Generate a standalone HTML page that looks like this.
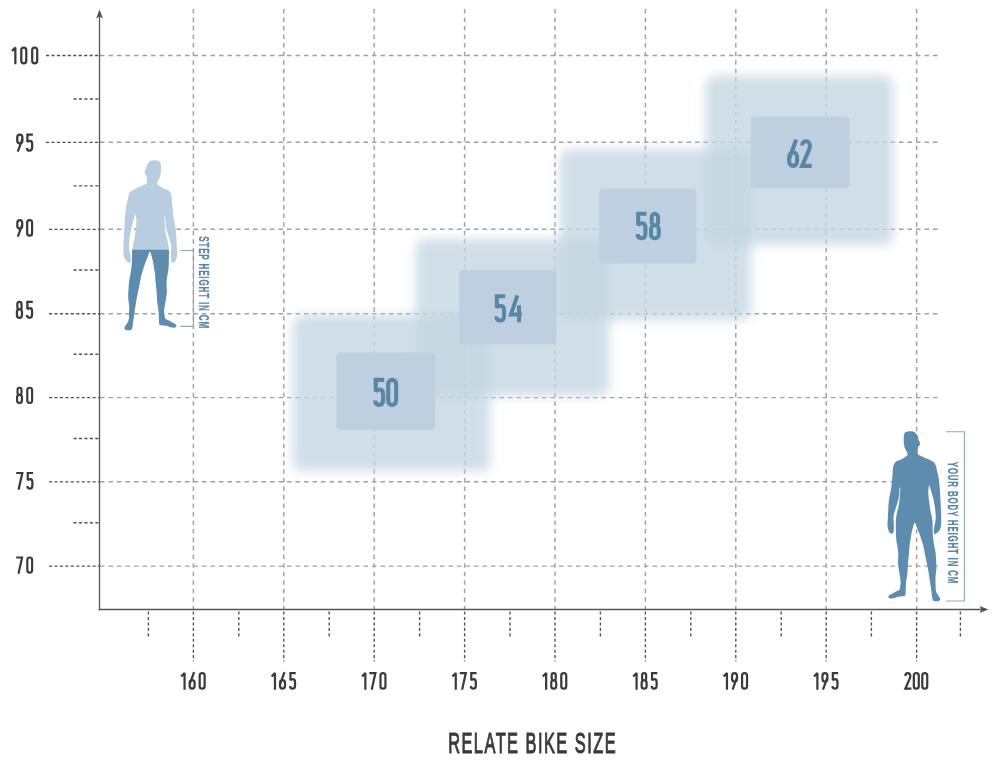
<!DOCTYPE html><html><head><meta charset="utf-8"><style>html,body{margin:0;padding:0;background:#fff}svg{display:block;will-change:transform}text{font-family:"Liberation Sans",sans-serif}</style></head><body>
<svg width="1000" height="763" viewBox="0 0 1000 763">
<defs><filter id="bl" x="-20%" y="-20%" width="140%" height="140%"><feGaussianBlur stdDeviation="5.5"/></filter>
<path id="man" d="M905.30,432.30C905.95,431.77 906.88,431.55 908.00,431.40C909.12,431.25 910.92,431.32 912.00,431.40C913.08,431.48 913.75,431.42 914.50,431.90C915.25,432.38 915.88,433.43 916.50,434.30C917.12,435.17 917.87,436.10 918.20,437.10C918.53,438.10 918.27,439.58 918.50,440.30C918.73,441.02 919.37,440.87 919.60,441.40C919.83,441.93 919.90,442.83 919.90,443.50C919.90,444.17 919.87,444.85 919.60,445.40C919.33,445.95 918.60,446.03 918.30,446.80C918.00,447.57 917.88,448.83 917.80,450.00C917.72,451.17 917.47,452.87 917.80,453.80C918.13,454.73 918.82,455.02 919.80,455.60C920.78,456.18 922.33,456.72 923.70,457.30C925.07,457.88 926.70,458.48 928.00,459.10C929.30,459.72 930.48,460.42 931.50,461.00C932.52,461.58 933.35,461.72 934.10,462.60C934.85,463.48 935.52,464.90 936.00,466.30C936.48,467.70 936.65,469.55 937.00,471.00C937.35,472.45 937.80,473.63 938.10,475.00C938.40,476.37 938.52,476.98 938.80,479.20C939.08,481.42 939.55,485.25 939.80,488.30C940.05,491.35 940.13,494.43 940.30,497.50C940.47,500.57 940.65,503.63 940.80,506.70C940.95,509.77 941.13,513.02 941.20,515.90C941.27,518.78 941.40,521.75 941.20,524.00C941.00,526.25 940.62,527.98 940.00,529.40C939.38,530.82 938.37,531.73 937.50,532.50C936.63,533.27 935.42,534.17 934.80,534.00C934.18,533.83 933.88,532.75 933.80,531.50C933.72,530.25 934.03,528.25 934.30,526.50C934.57,524.75 935.17,522.77 935.40,521.00C935.63,519.23 935.80,518.28 935.70,515.90C935.60,513.52 935.25,509.77 934.80,506.70C934.35,503.63 933.75,500.57 933.00,497.50C932.25,494.43 930.88,490.28 930.30,488.30C929.72,486.32 929.75,485.90 929.50,485.60C929.25,485.30 929.00,485.28 928.80,486.50C928.60,487.72 928.23,490.30 928.30,492.90C928.37,495.50 928.82,499.03 929.20,502.10C929.58,505.17 930.07,508.23 930.60,511.30C931.13,514.37 932.07,517.88 932.40,520.50C932.73,523.12 932.53,524.63 932.60,527.00C932.67,529.37 932.67,532.53 932.80,534.70C932.93,536.87 933.18,538.28 933.40,540.00C933.62,541.72 933.75,543.00 934.10,545.00C934.45,547.00 935.18,549.70 935.50,552.00C935.82,554.30 935.85,556.15 936.00,558.80C936.15,561.45 936.48,564.85 936.40,567.90C936.32,570.95 935.63,574.25 935.50,577.10C935.37,579.95 935.52,582.70 935.60,585.00C935.68,587.30 935.60,589.23 936.00,590.90C936.40,592.57 937.32,593.72 938.00,595.00C938.68,596.28 939.98,597.60 940.10,598.60C940.22,599.60 939.70,600.60 938.70,601.00C937.70,601.40 935.17,601.47 934.10,601.00C933.03,600.53 932.75,599.88 932.30,598.20C931.85,596.52 931.78,593.65 931.40,590.90C931.02,588.15 930.47,584.77 930.00,581.70C929.53,578.63 929.13,575.57 928.60,572.50C928.07,569.43 927.40,566.35 926.80,563.30C926.20,560.25 925.62,557.25 925.00,554.20C924.38,551.15 923.68,547.37 923.10,545.00C922.52,542.63 922.05,541.72 921.50,540.00C920.95,538.28 920.65,537.00 919.80,534.70C918.95,532.40 917.25,528.20 916.40,526.20C915.55,524.20 915.42,522.00 914.70,522.70C913.98,523.40 912.82,527.52 912.10,530.40C911.38,533.28 910.82,537.57 910.40,540.00C909.98,542.43 909.85,542.63 909.60,545.00C909.35,547.37 909.17,551.15 908.90,554.20C908.63,557.25 908.23,560.25 908.00,563.30C907.77,566.35 907.82,569.43 907.50,572.50C907.18,575.57 906.40,578.63 906.10,581.70C905.80,584.77 905.85,588.60 905.70,590.90C905.55,593.20 905.82,594.60 905.20,595.50C904.58,596.40 903.15,596.08 902.00,596.30C900.85,596.52 899.67,596.48 898.30,596.80C896.93,597.12 895.32,597.97 893.80,598.20C892.28,598.43 890.08,598.57 889.20,598.20C888.32,597.83 888.28,596.62 888.50,596.00C888.72,595.38 889.62,595.05 890.50,594.50C891.38,593.95 892.72,593.28 893.80,592.70C894.88,592.12 896.02,591.62 897.00,591.00C897.98,590.38 899.10,590.55 899.70,589.00C900.30,587.45 900.67,584.45 900.60,581.70C900.53,578.95 899.75,575.57 899.30,572.50C898.85,569.43 898.07,566.35 897.90,563.30C897.73,560.25 898.37,556.92 898.30,554.20C898.23,551.48 897.83,549.37 897.50,547.00C897.17,544.63 896.57,542.83 896.30,540.00C896.03,537.17 895.98,533.10 895.90,530.00C895.82,526.90 895.67,524.07 895.80,521.40C895.93,518.73 896.27,516.40 896.70,514.00C897.13,511.60 897.93,509.33 898.40,507.00C898.87,504.67 899.18,503.08 899.50,500.00C899.82,496.92 900.30,490.42 900.30,488.50C900.30,486.58 899.70,487.30 899.50,488.50C899.30,489.70 899.50,493.12 899.10,495.70C898.70,498.28 897.82,501.40 897.10,504.00C896.38,506.60 895.40,509.17 894.80,511.30C894.20,513.43 893.65,514.52 893.50,516.80C893.35,519.08 893.88,522.63 893.90,525.00C893.92,527.37 893.82,529.57 893.60,531.00C893.38,532.43 893.23,533.30 892.60,533.60C891.97,533.90 890.57,533.65 889.80,532.80C889.03,531.95 888.38,529.97 888.00,528.50C887.62,527.03 887.50,526.10 887.50,524.00C887.50,521.90 887.85,518.78 888.00,515.90C888.15,513.02 888.18,509.77 888.40,506.70C888.62,503.63 888.83,500.57 889.30,497.50C889.77,494.43 890.75,491.22 891.20,488.30C891.65,485.38 891.78,482.22 892.00,480.00C892.22,477.78 892.37,476.67 892.50,475.00C892.63,473.33 892.67,471.45 892.80,470.00C892.93,468.55 892.92,467.53 893.30,466.30C893.68,465.07 894.32,463.55 895.10,462.60C895.88,461.65 897.08,461.08 898.00,460.60C898.92,460.12 899.45,460.25 900.60,459.70C901.75,459.15 903.73,458.17 904.90,457.30C906.07,456.43 907.37,455.57 907.60,454.50C907.83,453.43 906.83,452.20 906.30,450.90C905.77,449.60 904.82,448.10 904.40,446.70C903.98,445.30 903.92,443.87 903.80,442.50C903.68,441.13 903.65,439.82 903.70,438.50C903.75,437.18 903.83,435.63 904.10,434.60C904.37,433.57 904.65,432.83 905.30,432.30Z"/>
<clipPath id="manclip"><use href="#man" transform="translate(1064.7,-271) scale(-1,1)"/></clipPath>
</defs>
<rect width="1000" height="763" fill="#fff"/>
<g stroke="#a0a0a0" stroke-width="1.45" stroke-dasharray="4.5 4" fill="none"><line x1="100" y1="55.5" x2="937.5" y2="55.5"/><line x1="100" y1="142.3" x2="937.5" y2="142.3"/><line x1="100" y1="229.3" x2="937.5" y2="229.3"/><line x1="100" y1="313.7" x2="937.5" y2="313.7"/><line x1="100" y1="397.6" x2="937.5" y2="397.6"/><line x1="100" y1="481.8" x2="937.5" y2="481.8"/><line x1="100" y1="566.1" x2="937.5" y2="566.1"/></g>
<g stroke="#a0a0a0" stroke-width="1.45" stroke-dasharray="4.5 4.025" fill="none"><line x1="193.4" y1="9" x2="193.4" y2="609"/><line x1="283.8" y1="9" x2="283.8" y2="609"/><line x1="374.2" y1="9" x2="374.2" y2="609"/><line x1="464.6" y1="9" x2="464.6" y2="609"/><line x1="555.0" y1="9" x2="555.0" y2="609"/><line x1="645.4" y1="9" x2="645.4" y2="609"/><line x1="735.8" y1="9" x2="735.8" y2="609"/><line x1="826.2" y1="9" x2="826.2" y2="609"/><line x1="916.6" y1="9" x2="916.6" y2="609"/></g>
<g stroke="#525252" stroke-width="1.35" stroke-dasharray="3.1 2.35" fill="none"><line x1="46.0" y1="55.5" x2="99" y2="55.5"/><line x1="46.0" y1="142.3" x2="99" y2="142.3"/><line x1="49.0" y1="229.3" x2="99" y2="229.3"/><line x1="49.0" y1="313.7" x2="99" y2="313.7"/><line x1="49.0" y1="397.6" x2="99" y2="397.6"/><line x1="49.0" y1="481.8" x2="99" y2="481.8"/><line x1="49.0" y1="566.1" x2="99" y2="566.1"/><line x1="73.5" y1="99.0" x2="99" y2="99.0"/><line x1="73.5" y1="185.9" x2="99" y2="185.9"/><line x1="73.5" y1="270.0" x2="99" y2="270.0"/><line x1="73.5" y1="354.2" x2="99" y2="354.2"/><line x1="73.5" y1="438.5" x2="99" y2="438.5"/><line x1="73.5" y1="522.7" x2="99" y2="522.7"/><line x1="193.4" y1="611.5" x2="193.4" y2="661.5"/><line x1="283.8" y1="611.5" x2="283.8" y2="661.5"/><line x1="374.2" y1="611.5" x2="374.2" y2="661.5"/><line x1="464.6" y1="611.5" x2="464.6" y2="661.5"/><line x1="555.0" y1="611.5" x2="555.0" y2="661.5"/><line x1="645.4" y1="611.5" x2="645.4" y2="661.5"/><line x1="735.8" y1="611.5" x2="735.8" y2="661.5"/><line x1="826.2" y1="611.5" x2="826.2" y2="661.5"/><line x1="916.6" y1="611.5" x2="916.6" y2="661.5"/><line x1="148.4" y1="611.5" x2="148.4" y2="636.5"/><line x1="238.8" y1="611.5" x2="238.8" y2="636.5"/><line x1="329.2" y1="611.5" x2="329.2" y2="636.5"/><line x1="419.6" y1="611.5" x2="419.6" y2="636.5"/><line x1="510.0" y1="611.5" x2="510.0" y2="636.5"/><line x1="600.4" y1="611.5" x2="600.4" y2="636.5"/><line x1="690.8" y1="611.5" x2="690.8" y2="636.5"/><line x1="781.2" y1="611.5" x2="781.2" y2="636.5"/><line x1="871.4" y1="611.5" x2="871.4" y2="636.5"/><line x1="960.4" y1="611.5" x2="960.4" y2="636.5"/></g>
<rect x="293.0" y="315.0" width="197.0" height="156.0" rx="9" fill="rgb(196,214,226)" fill-opacity="0.8" filter="url(#bl)"/>
<rect x="416.0" y="239.0" width="193.0" height="157.0" rx="9" fill="rgb(196,214,226)" fill-opacity="0.8" filter="url(#bl)"/>
<rect x="560.0" y="149.5" width="191.0" height="170.5" rx="9" fill="rgb(196,214,226)" fill-opacity="0.8" filter="url(#bl)"/>
<rect x="706.0" y="75.7" width="187.0" height="169.3" rx="9" fill="rgb(196,214,226)" fill-opacity="0.8" filter="url(#bl)"/>
<rect x="336.4" y="352.6" width="98.7" height="77.1" rx="4" fill="rgb(190,207,224)"/>
<rect x="459.2" y="270.0" width="97.3" height="74.5" rx="4" fill="rgb(190,207,224)"/>
<rect x="599.2" y="188.8" width="97.3" height="74.7" rx="4" fill="rgb(190,207,224)"/>
<rect x="750.8" y="116.8" width="98.7" height="71.5" rx="4" fill="rgb(190,207,224)"/>
<g transform="translate(373.10,378.15) scale(0.2839)" fill="none" stroke="#5887a5" stroke-width="14.5" stroke-linecap="butt" stroke-linejoin="miter" stroke-miterlimit="2"><path d="M38,6 H8 V47 Q13,40 21,40 Q34,40 34,56 V76 Q34,94 20,94 Q6,94 6,79" transform="translate(1.25,0)"/><path d="M6,20 A14,14 0 0 1 34,20 V80 A14,14 0 0 1 6,80 Z" transform="translate(47.16,0)"/></g>
<g transform="translate(494.30,294.65) scale(0.2761)" fill="none" stroke="#5887a5" stroke-width="14.5" stroke-linecap="butt" stroke-linejoin="miter" stroke-miterlimit="2"><path d="M38,6 H8 V47 Q13,40 21,40 Q34,40 34,56 V76 Q34,94 20,94 Q6,94 6,79" transform="translate(1.25,0)"/><path d="M28,3 L5,72 H44 M34,38 V100" transform="translate(55.44,0)"/></g>
<g transform="translate(635.60,212.15) scale(0.2780)" fill="none" stroke="#5887a5" stroke-width="14.5" stroke-linecap="butt" stroke-linejoin="miter" stroke-miterlimit="2"><path d="M38,6 H8 V47 Q13,40 21,40 Q34,40 34,56 V76 Q34,94 20,94 Q6,94 6,79" transform="translate(1.25,0)"/><path d="M8.5,18 A11.5,12 0 0 1 31.5,18 V35 A11.5,12 0 0 1 8.5,35 Z M6,61 A14,14 0 0 1 34,61 V80 A14,14 0 0 1 6,80 Z" transform="translate(49.38,0)"/></g>
<g transform="translate(787.10,139.35) scale(0.2820)" fill="none" stroke="#5887a5" stroke-width="14.5" stroke-linecap="butt" stroke-linejoin="miter" stroke-miterlimit="2"><path d="M31,1 L6.5,68 M6,62 A14,16 0 0 1 34,62 V78 A14,16 0 0 1 6,78 Z" transform="translate(1.25,0)"/><path d="M6,22 A14,15 0 0 1 34,21 Q34,31 29,41 L6,94 H40" transform="translate(47.06,0)"/></g>
<g stroke="#555" stroke-width="1.3" fill="none"><line x1="99.5" y1="14" x2="99.5" y2="610.3"/><line x1="98.7" y1="609.5" x2="984" y2="609.5"/></g>
<path d="M99.5,9.6 L103,18.5 L99.5,16.5 L96,18.5 Z" fill="#555"/>
<path d="M988.5,609.5 L979.5,606 L981.5,609.5 L979.5,613 Z" fill="#555"/>
<use href="#man" fill="#5e8cae"/>
<g clip-path="url(#manclip)"><rect x="100" y="150" width="100" height="200" fill="#b9cde0"/><path d="M131.4,249.8 H169.7 V263.6 H195 V340 H105 V263.6 H131.4 Z" fill="#5e8cae"/></g>
<g stroke="#8fa9bf" stroke-width="1.15" fill="none"><path d="M180.2,250.5 H193.4 V326.3 H180.2"/><path d="M945.8,431.7 H964.4 V601 H945.8"/></g>
<text font-size="15.5" font-weight="bold" fill="#5887a5" stroke="#5887a5" stroke-width="0.3" letter-spacing="1.6" transform="translate(199.3,236.2) rotate(90) scale(0.52,1)">STEP HEIGHT IN CM</text>
<text font-size="15.5" font-weight="bold" fill="#5887a5" stroke="#5887a5" stroke-width="0.3" letter-spacing="1.6" transform="translate(947.8,461.8) rotate(90) scale(0.51,1)">YOUR BODY HEIGHT IN CM</text>
<g transform="translate(11.20,46.54) scale(0.1781)" fill="none" stroke="#3a3a3a" stroke-width="12.5" stroke-linecap="butt" stroke-linejoin="miter" stroke-miterlimit="2"><path d="M4,25 L23,6 V100" transform="translate(0.25,0)"/><path d="M6,20 A14,14 0 0 1 34,20 V80 A14,14 0 0 1 6,80 Z" transform="translate(50.58,0)"/><path d="M6,20 A14,14 0 0 1 34,20 V80 A14,14 0 0 1 6,80 Z" transform="translate(111.90,0)"/></g>
<g transform="translate(16.10,133.45) scale(0.1831)" fill="none" stroke="#3a3a3a" stroke-width="12.5" stroke-linecap="butt" stroke-linejoin="miter" stroke-miterlimit="2"><path d="M34,38 A14,16 0 0 1 6,38 V22 A14,16 0 0 1 34,22 Z M9,99 L33.5,32" transform="translate(0.25,0)"/><path d="M38,6 H8 V47 Q13,40 21,40 Q34,40 34,56 V76 Q34,94 20,94 Q6,94 6,79" transform="translate(53.70,0)"/></g>
<g transform="translate(16.20,219.14) scale(0.1761)" fill="none" stroke="#3a3a3a" stroke-width="12.5" stroke-linecap="butt" stroke-linejoin="miter" stroke-miterlimit="2"><path d="M34,38 A14,16 0 0 1 6,38 V22 A14,16 0 0 1 34,22 Z M9,99 L33.5,32" transform="translate(0.25,0)"/><path d="M6,20 A14,14 0 0 1 34,20 V80 A14,14 0 0 1 6,80 Z" transform="translate(56.28,0)"/></g>
<g transform="translate(15.80,300.85) scale(0.1801)" fill="none" stroke="#3a3a3a" stroke-width="12.5" stroke-linecap="butt" stroke-linejoin="miter" stroke-miterlimit="2"><path d="M8.5,18 A11.5,12 0 0 1 31.5,18 V35 A11.5,12 0 0 1 8.5,35 Z M6,61 A14,14 0 0 1 34,61 V80 A14,14 0 0 1 6,80 Z" transform="translate(0.25,0)"/><path d="M38,6 H8 V47 Q13,40 21,40 Q34,40 34,56 V76 Q34,94 20,94 Q6,94 6,79" transform="translate(56.36,0)"/></g>
<g transform="translate(16.00,386.74) scale(0.1731)" fill="none" stroke="#3a3a3a" stroke-width="12.5" stroke-linecap="butt" stroke-linejoin="miter" stroke-miterlimit="2"><path d="M8.5,18 A11.5,12 0 0 1 31.5,18 V35 A11.5,12 0 0 1 8.5,35 Z M6,61 A14,14 0 0 1 34,61 V80 A14,14 0 0 1 6,80 Z" transform="translate(0.25,0)"/><path d="M6,20 A14,14 0 0 1 34,20 V80 A14,14 0 0 1 6,80 Z" transform="translate(59.09,0)"/></g>
<g transform="translate(16.20,471.94) scale(0.1781)" fill="none" stroke="#3a3a3a" stroke-width="12.5" stroke-linecap="butt" stroke-linejoin="miter" stroke-miterlimit="2"><path d="M0,6 H34 L13,100" transform="translate(0.25,0)"/><path d="M38,6 H8 V47 Q13,40 21,40 Q34,40 34,56 V76 Q34,94 20,94 Q6,94 6,79" transform="translate(56.88,0)"/></g>
<g transform="translate(16.20,556.44) scale(0.1721)" fill="none" stroke="#3a3a3a" stroke-width="12.5" stroke-linecap="butt" stroke-linejoin="miter" stroke-miterlimit="2"><path d="M0,6 H34 L13,100" transform="translate(0.25,0)"/><path d="M6,20 A14,14 0 0 1 34,20 V80 A14,14 0 0 1 6,80 Z" transform="translate(58.51,0)"/></g>
<g transform="translate(180.45,672.04) scale(0.1771)" fill="none" stroke="#3a3a3a" stroke-width="12.5" stroke-linecap="butt" stroke-linejoin="miter" stroke-miterlimit="2"><path d="M4,25 L23,6 V100" transform="translate(0.25,0)"/><path d="M31,1 L6.5,68 M6,62 A14,16 0 0 1 34,62 V78 A14,16 0 0 1 6,78 Z" transform="translate(45.92,0)"/><path d="M6,20 A14,14 0 0 1 34,20 V80 A14,14 0 0 1 6,80 Z" transform="translate(102.60,0)"/></g>
<g transform="translate(270.85,672.04) scale(0.1771)" fill="none" stroke="#3a3a3a" stroke-width="12.5" stroke-linecap="butt" stroke-linejoin="miter" stroke-miterlimit="2"><path d="M4,25 L23,6 V100" transform="translate(0.25,0)"/><path d="M31,1 L6.5,68 M6,62 A14,16 0 0 1 34,62 V78 A14,16 0 0 1 6,78 Z" transform="translate(45.92,0)"/><path d="M38,6 H8 V47 Q13,40 21,40 Q34,40 34,56 V76 Q34,94 20,94 Q6,94 6,79" transform="translate(102.60,0)"/></g>
<g transform="translate(361.25,672.04) scale(0.1771)" fill="none" stroke="#3a3a3a" stroke-width="12.5" stroke-linecap="butt" stroke-linejoin="miter" stroke-miterlimit="2"><path d="M4,25 L23,6 V100" transform="translate(0.25,0)"/><path d="M0,6 H34 L13,100" transform="translate(45.92,0)"/><path d="M6,20 A14,14 0 0 1 34,20 V80 A14,14 0 0 1 6,80 Z" transform="translate(102.60,0)"/></g>
<g transform="translate(451.65,672.04) scale(0.1771)" fill="none" stroke="#3a3a3a" stroke-width="12.5" stroke-linecap="butt" stroke-linejoin="miter" stroke-miterlimit="2"><path d="M4,25 L23,6 V100" transform="translate(0.25,0)"/><path d="M0,6 H34 L13,100" transform="translate(45.92,0)"/><path d="M38,6 H8 V47 Q13,40 21,40 Q34,40 34,56 V76 Q34,94 20,94 Q6,94 6,79" transform="translate(102.60,0)"/></g>
<g transform="translate(542.05,672.04) scale(0.1771)" fill="none" stroke="#3a3a3a" stroke-width="12.5" stroke-linecap="butt" stroke-linejoin="miter" stroke-miterlimit="2"><path d="M4,25 L23,6 V100" transform="translate(0.25,0)"/><path d="M8.5,18 A11.5,12 0 0 1 31.5,18 V35 A11.5,12 0 0 1 8.5,35 Z M6,61 A14,14 0 0 1 34,61 V80 A14,14 0 0 1 6,80 Z" transform="translate(45.92,0)"/><path d="M6,20 A14,14 0 0 1 34,20 V80 A14,14 0 0 1 6,80 Z" transform="translate(102.60,0)"/></g>
<g transform="translate(632.45,672.04) scale(0.1771)" fill="none" stroke="#3a3a3a" stroke-width="12.5" stroke-linecap="butt" stroke-linejoin="miter" stroke-miterlimit="2"><path d="M4,25 L23,6 V100" transform="translate(0.25,0)"/><path d="M8.5,18 A11.5,12 0 0 1 31.5,18 V35 A11.5,12 0 0 1 8.5,35 Z M6,61 A14,14 0 0 1 34,61 V80 A14,14 0 0 1 6,80 Z" transform="translate(45.92,0)"/><path d="M38,6 H8 V47 Q13,40 21,40 Q34,40 34,56 V76 Q34,94 20,94 Q6,94 6,79" transform="translate(102.60,0)"/></g>
<g transform="translate(722.85,672.04) scale(0.1771)" fill="none" stroke="#3a3a3a" stroke-width="12.5" stroke-linecap="butt" stroke-linejoin="miter" stroke-miterlimit="2"><path d="M4,25 L23,6 V100" transform="translate(0.25,0)"/><path d="M34,38 A14,16 0 0 1 6,38 V22 A14,16 0 0 1 34,22 Z M9,99 L33.5,32" transform="translate(45.92,0)"/><path d="M6,20 A14,14 0 0 1 34,20 V80 A14,14 0 0 1 6,80 Z" transform="translate(102.60,0)"/></g>
<g transform="translate(813.25,672.04) scale(0.1771)" fill="none" stroke="#3a3a3a" stroke-width="12.5" stroke-linecap="butt" stroke-linejoin="miter" stroke-miterlimit="2"><path d="M4,25 L23,6 V100" transform="translate(0.25,0)"/><path d="M34,38 A14,16 0 0 1 6,38 V22 A14,16 0 0 1 34,22 Z M9,99 L33.5,32" transform="translate(45.92,0)"/><path d="M38,6 H8 V47 Q13,40 21,40 Q34,40 34,56 V76 Q34,94 20,94 Q6,94 6,79" transform="translate(102.60,0)"/></g>
<g transform="translate(904.25,672.04) scale(0.1771)" fill="none" stroke="#3a3a3a" stroke-width="12.5" stroke-linecap="butt" stroke-linejoin="miter" stroke-miterlimit="2"><path d="M6,22 A14,15 0 0 1 34,21 Q34,31 29,41 L6,94 H40" transform="translate(0.25,0)"/><path d="M6,20 A14,14 0 0 1 34,20 V80 A14,14 0 0 1 6,80 Z" transform="translate(48.04,0)"/><path d="M6,20 A14,14 0 0 1 34,20 V80 A14,14 0 0 1 6,80 Z" transform="translate(95.82,0)"/></g>
<text font-size="29" fill="#3a3a3a" stroke="#3a3a3a" stroke-width="1.1" letter-spacing="2.6" text-anchor="middle" transform="translate(532.6,752.6) scale(0.565,1)">RELATE BIKE SIZE</text>
</svg></body></html>
